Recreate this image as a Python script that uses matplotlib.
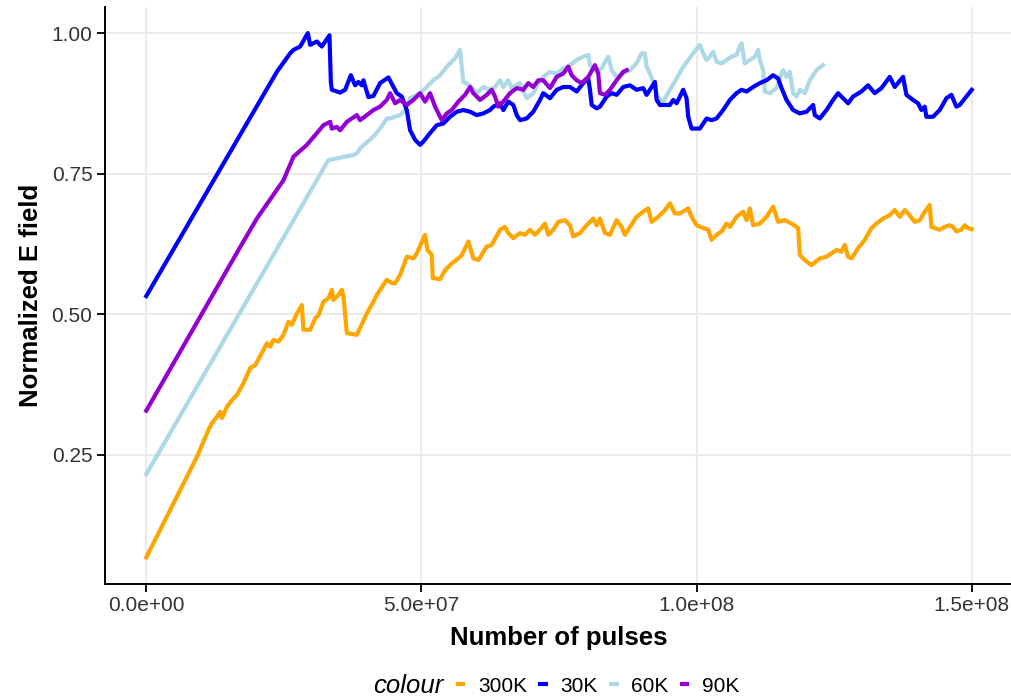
import numpy as np
import matplotlib
matplotlib.use("Agg")
import matplotlib.pyplot as plt
from matplotlib.lines import Line2D

plt.rcParams['font.family'] = ['Liberation Sans', 'DejaVu Sans']

# pulses in millions, normalized field
x300 = [0, 9.21, 11.31, 11.93, 12.84, 13.44, 13.75, 14.65, 15.85, 16.47, 17.67, 18.89, 19.79,
        21.3, 21.92, 22.52, 23.12, 24.02, 24.93, 25.84, 26.46, 27.37, 28.27, 28.56, 29.78,
        30.69, 31.29, 32.2, 33.1, 33.72, 34.01, 34.92, 35.54, 35.83, 36.45, 38.26, 40.08,
        41.28, 41.89, 43.71, 44.62, 45.22, 46.12, 47.34, 48.54, 49.16, 50.66, 51.08, 51.88,
        52.06, 53.39, 54.3, 55.51, 56.71, 57.33, 58.53, 59.44, 60.34, 61.87, 62.78, 64.28,
        65.19, 65.79, 66.7, 67.91, 68.82, 69.73, 70.64, 71.55, 72.45, 73.05, 73.96, 74.87,
        76.09, 76.99, 77.59, 78.81, 80.02, 81.23, 81.84, 82.44, 83.35, 84.26, 85.47, 86.38,
        86.98, 87.58, 89.1, 90.3, 91.21, 91.83, 93.03, 94.25, 95.15, 96.06, 96.97, 98.48,
        99.09, 100.0, 101.2, 102.11, 102.72, 103.63, 104.54, 105.45, 106.05, 107.26, 108.46,
        109.08, 109.68, 110.28, 111.5, 112.71, 113.91, 114.82, 116.04, 117.25, 118.45,
        118.76, 119.67, 120.88, 122.39, 123.61, 125.42, 126.33, 126.93, 127.53, 128.15,
        129.35, 130.56, 131.78, 132.69, 133.89, 135.1, 136.01, 136.92, 137.83, 138.43,
        139.64, 140.55, 141.46, 142.37, 142.67, 144.18, 145.09, 146.0, 146.6, 147.21,
        148.12, 148.72, 149.32, 150.0]
y300 = [0.067, 0.246, 0.294, 0.306, 0.317, 0.326, 0.315, 0.335, 0.350, 0.356, 0.377, 0.404, 0.409,
        0.436, 0.448, 0.442, 0.454, 0.451, 0.463, 0.486, 0.481, 0.501, 0.516, 0.472, 0.472,
        0.492, 0.498, 0.522, 0.528, 0.543, 0.525, 0.534, 0.543, 0.531, 0.466, 0.463, 0.501,
        0.522, 0.534, 0.561, 0.555, 0.555, 0.569, 0.602, 0.599, 0.608, 0.641, 0.614, 0.605,
        0.564, 0.562, 0.578, 0.590, 0.599, 0.605, 0.629, 0.599, 0.596, 0.620, 0.623, 0.650,
        0.655, 0.644, 0.635, 0.644, 0.641, 0.650, 0.641, 0.650, 0.661, 0.641, 0.650, 0.664,
        0.667, 0.658, 0.638, 0.644, 0.658, 0.670, 0.658, 0.670, 0.644, 0.641, 0.667, 0.655,
        0.641, 0.650, 0.673, 0.682, 0.688, 0.664, 0.673, 0.685, 0.697, 0.679, 0.679, 0.688,
        0.673, 0.658, 0.653, 0.650, 0.632, 0.641, 0.647, 0.661, 0.655, 0.673, 0.682,
        0.667, 0.688, 0.658, 0.661, 0.673, 0.691, 0.664, 0.667, 0.661, 0.653,
        0.605, 0.596, 0.587, 0.599, 0.602, 0.614, 0.611, 0.623, 0.602, 0.599,
        0.617, 0.632, 0.653, 0.661, 0.670, 0.676, 0.685, 0.673, 0.685, 0.679,
        0.664, 0.667, 0.682, 0.694, 0.655, 0.650, 0.655, 0.658, 0.655, 0.647,
        0.650, 0.658, 0.653, 0.651]

x30 = [0, 23.73, 26.15, 26.75, 27.97, 29.36, 29.78, 31.0, 31.9, 33.29, 33.54, 33.72, 35.23,
       36.14, 37.17, 37.95, 38.55, 39.17, 39.46, 40.37, 41.28, 42.49, 44.0, 44.91, 45.52,
       46.43, 47.34, 47.94, 48.85, 49.76, 50.36, 51.57, 52.79, 53.99, 55.2, 56.42, 57.62,
       58.84, 60.05, 61.25, 62.47, 63.07, 64.28, 64.88, 65.79, 66.7, 67.32, 67.91, 69.13,
       70.33, 71.55, 72.14, 73.36, 74.58, 75.78, 76.99, 78.21, 79.41, 80.32, 80.63, 80.94,
       81.84, 82.44, 83.66, 84.57, 85.47, 86.67, 87.89, 89.1, 90.3, 90.92, 91.52, 92.43,
       92.74, 93.34, 95.15, 95.75, 96.37, 97.57, 98.18, 98.48, 99.09, 100.6, 101.82,
       102.72, 103.63, 104.83, 106.05, 107.26, 108.17, 109.08, 110.28, 111.5, 112.71,
       113.91, 114.82, 115.44, 116.34, 117.54, 118.76, 119.98, 121.18, 121.48, 122.39,
       123.61, 124.81, 125.71, 127.53, 128.44, 129.96, 131.16, 132.38, 133.59, 135.1,
       136.01, 137.52, 138.13, 139.33, 140.24, 140.86, 141.46, 141.76, 142.97, 144.18,
       145.4, 146.31, 147.21, 147.81, 149.03, 150.0]
y30 = [0.532, 0.931, 0.964, 0.970, 0.976, 1.0, 0.979, 0.985, 0.976, 0.996, 0.913, 0.899, 0.894,
       0.899, 0.925, 0.907, 0.913, 0.907, 0.916, 0.886, 0.888, 0.911, 0.921, 0.904, 0.893,
       0.887, 0.863, 0.827, 0.810, 0.801, 0.807, 0.822, 0.836, 0.839, 0.851, 0.860, 0.863,
       0.860, 0.854, 0.857, 0.863, 0.869, 0.875, 0.863, 0.878, 0.872, 0.854, 0.845, 0.848,
       0.860, 0.881, 0.893, 0.884, 0.899, 0.904, 0.904, 0.896, 0.911, 0.919, 0.899, 0.872,
       0.866, 0.869, 0.887, 0.893, 0.890, 0.904, 0.907, 0.899, 0.902, 0.890, 0.899, 0.913,
       0.881, 0.872, 0.872, 0.881, 0.875, 0.899, 0.884, 0.851, 0.830, 0.830, 0.848,
       0.845, 0.848, 0.863, 0.881, 0.893, 0.899, 0.896, 0.904, 0.911, 0.916,
       0.925, 0.919, 0.902, 0.881, 0.863, 0.857, 0.860, 0.872, 0.854, 0.848,
       0.863, 0.881, 0.893, 0.875, 0.887, 0.896, 0.907, 0.893, 0.902, 0.922,
       0.904, 0.922, 0.890, 0.881, 0.875, 0.863, 0.869, 0.851, 0.851, 0.863,
       0.884, 0.890, 0.869, 0.872, 0.887, 0.899]

x60 = [0, 33.1, 37.64, 38.26, 38.86, 41.28, 42.49, 43.71, 44.31, 46.12, 47.03, 47.94, 49.76,
       50.97, 52.17, 53.39, 54.6, 56.11, 57.02, 57.33, 57.62, 58.84, 60.05, 61.25, 62.47,
       63.37, 64.28, 64.88, 65.79, 66.41, 67.91, 69.13, 70.33, 71.24, 72.14, 73.36, 74.58,
       75.78, 76.99, 78.21, 79.41, 80.32, 80.63, 81.84, 82.75, 83.95, 84.57, 85.47, 86.67,
       87.89, 89.1, 90.01, 90.61, 90.92, 91.52, 92.12, 93.03, 93.94, 95.15, 96.37, 97.57,
       98.48, 99.38, 100.6, 101.2, 101.82, 102.42, 103.02, 103.63, 104.54, 105.45, 106.36,
       107.26, 107.86, 108.17, 108.77, 109.68, 110.59, 111.19, 111.5, 112.1, 112.4, 113.31,
       114.53, 115.44, 115.73, 116.34, 116.94, 117.54, 118.16, 118.76, 119.67, 120.58,
       121.79, 122.99]
y60 = [0.215, 0.774, 0.783, 0.786, 0.795, 0.816, 0.830, 0.848, 0.848, 0.854, 0.863, 0.884, 0.893,
       0.904, 0.916, 0.925, 0.940, 0.955, 0.970, 0.940, 0.913, 0.907, 0.893, 0.904, 0.899,
       0.904, 0.916, 0.904, 0.916, 0.902, 0.911, 0.884, 0.893, 0.911, 0.922, 0.931, 0.928,
       0.937, 0.943, 0.952, 0.958, 0.961, 0.943, 0.931, 0.937, 0.958, 0.934, 0.922, 0.928,
       0.934, 0.946, 0.964, 0.964, 0.940, 0.928, 0.913, 0.884, 0.878, 0.899, 0.919, 0.940,
       0.952, 0.964, 0.979, 0.964, 0.952, 0.958, 0.967, 0.949, 0.946, 0.952, 0.958,
       0.961, 0.976, 0.982, 0.946, 0.952, 0.958, 0.970, 0.952, 0.934, 0.896, 0.893,
       0.902, 0.928, 0.934, 0.922, 0.931, 0.893, 0.887, 0.899, 0.893, 0.916,
       0.934, 0.943]

x90 = [0, 16.76, 20.1, 24.93, 26.75, 29.18, 31.0, 32.2, 33.41, 33.72, 34.63, 35.23, 36.45,
       38.26, 38.86, 40.08, 41.28, 42.49, 43.71, 44.31, 45.22, 46.12, 47.34, 48.54, 49.76,
       50.66, 51.57, 52.48, 53.7, 54.6, 55.51, 56.71, 57.93, 58.84, 59.44, 60.65, 61.87,
       62.78, 63.37, 63.97, 64.88, 66.1, 67.32, 68.51, 69.42, 70.33, 71.24, 72.14, 73.36,
       74.58, 75.78, 76.69, 77.3, 78.21, 79.12, 80.32, 81.53, 82.13, 82.44, 83.35, 84.26,
       85.47, 86.67, 87.29]
y90 = [0.328, 0.614, 0.670, 0.738, 0.780, 0.801, 0.822, 0.836, 0.842, 0.830, 0.833, 0.827, 0.842,
       0.854, 0.845, 0.854, 0.863, 0.869, 0.881, 0.893, 0.875, 0.881, 0.872, 0.881, 0.893,
       0.878, 0.893, 0.869, 0.845, 0.857, 0.863, 0.878, 0.890, 0.904, 0.893, 0.881, 0.890,
       0.899, 0.887, 0.869, 0.878, 0.893, 0.902, 0.899, 0.911, 0.904, 0.916, 0.916, 0.902,
       0.922, 0.928, 0.940, 0.925, 0.916, 0.911, 0.922, 0.943, 0.928, 0.893, 0.890, 0.899,
       0.916, 0.931, 0.934]

labels = ['300K', '30K', '60K', '90K']
colors = ['orange', 'blue', 'lightblue', 'darkviolet']
xticks = [0, 5e7, 1e8, 1.5e8]
xtick_labels = ['0.0e+00', '5.0e+07', '1.0e+08', '1.5e+08']
yticks = [0.25, 0.50, 0.75, 1.00]
ytick_labels = ['0.25', '0.50', '0.75', '1.00']

fig = plt.figure(figsize=(10.12, 7.0), dpi=100)
ax = fig.add_axes([105 / 1012, 1 - 583.6 / 700, 908 / 1012, (583.6 - 6.8) / 700])

series = {'300K': (x300, y300), '30K': (x30, y30), '60K': (x60, y60), '90K': (x90, y90)}
for lab in ['300K', '60K', '30K', '90K']:
    xs, ys = series[lab]
    ax.plot(np.array(xs) * 1e6, ys, color=colors[labels.index(lab)], lw=3.0,
            solid_joinstyle='round', zorder=3)

ax.set_xlim(-7.5e6, 157.5e6)
ax.set_ylim(0.0203, 1.0467)
ax.set_xticks(xticks)
ax.set_xticklabels(xtick_labels)
ax.set_yticks(yticks)
ax.set_yticklabels(ytick_labels)
ax.grid(True, color='#ebebeb', lw=1.5, zorder=0)
ax.set_axisbelow(True)

for s in ['top', 'right']:
    ax.spines[s].set_visible(False)
for s in ['left', 'bottom']:
    ax.spines[s].set_linewidth(1.4)
    ax.spines[s].set_color('black')
ax.tick_params(axis='both', length=6, width=1.3, color='black', labelsize=15,
               labelcolor='#333333', pad=3)

ax.set_xlabel('Number of pulses', fontsize=18.5, fontweight='bold', labelpad=8)
ax.set_ylabel('Normalized E field', fontsize=18.5, fontweight='bold', labelpad=6)

# legend at bottom
fig.text(408 / 1012, 14 / 700, 'colour', fontsize=18.5, style='italic',
         ha='center', va='center', color='black')
handles = [Line2D([], [], color=c, lw=3, solid_capstyle='butt') for c in colors]
fig.legend(handles, labels, loc='center left', bbox_to_anchor=(456 / 1012, 14 / 700),
           ncol=4, frameon=False, fontsize=15, handlelength=0.45, handletextpad=0.6,
           columnspacing=0.55, borderpad=0, borderaxespad=0)

fig.savefig('out.png', dpi=100)
